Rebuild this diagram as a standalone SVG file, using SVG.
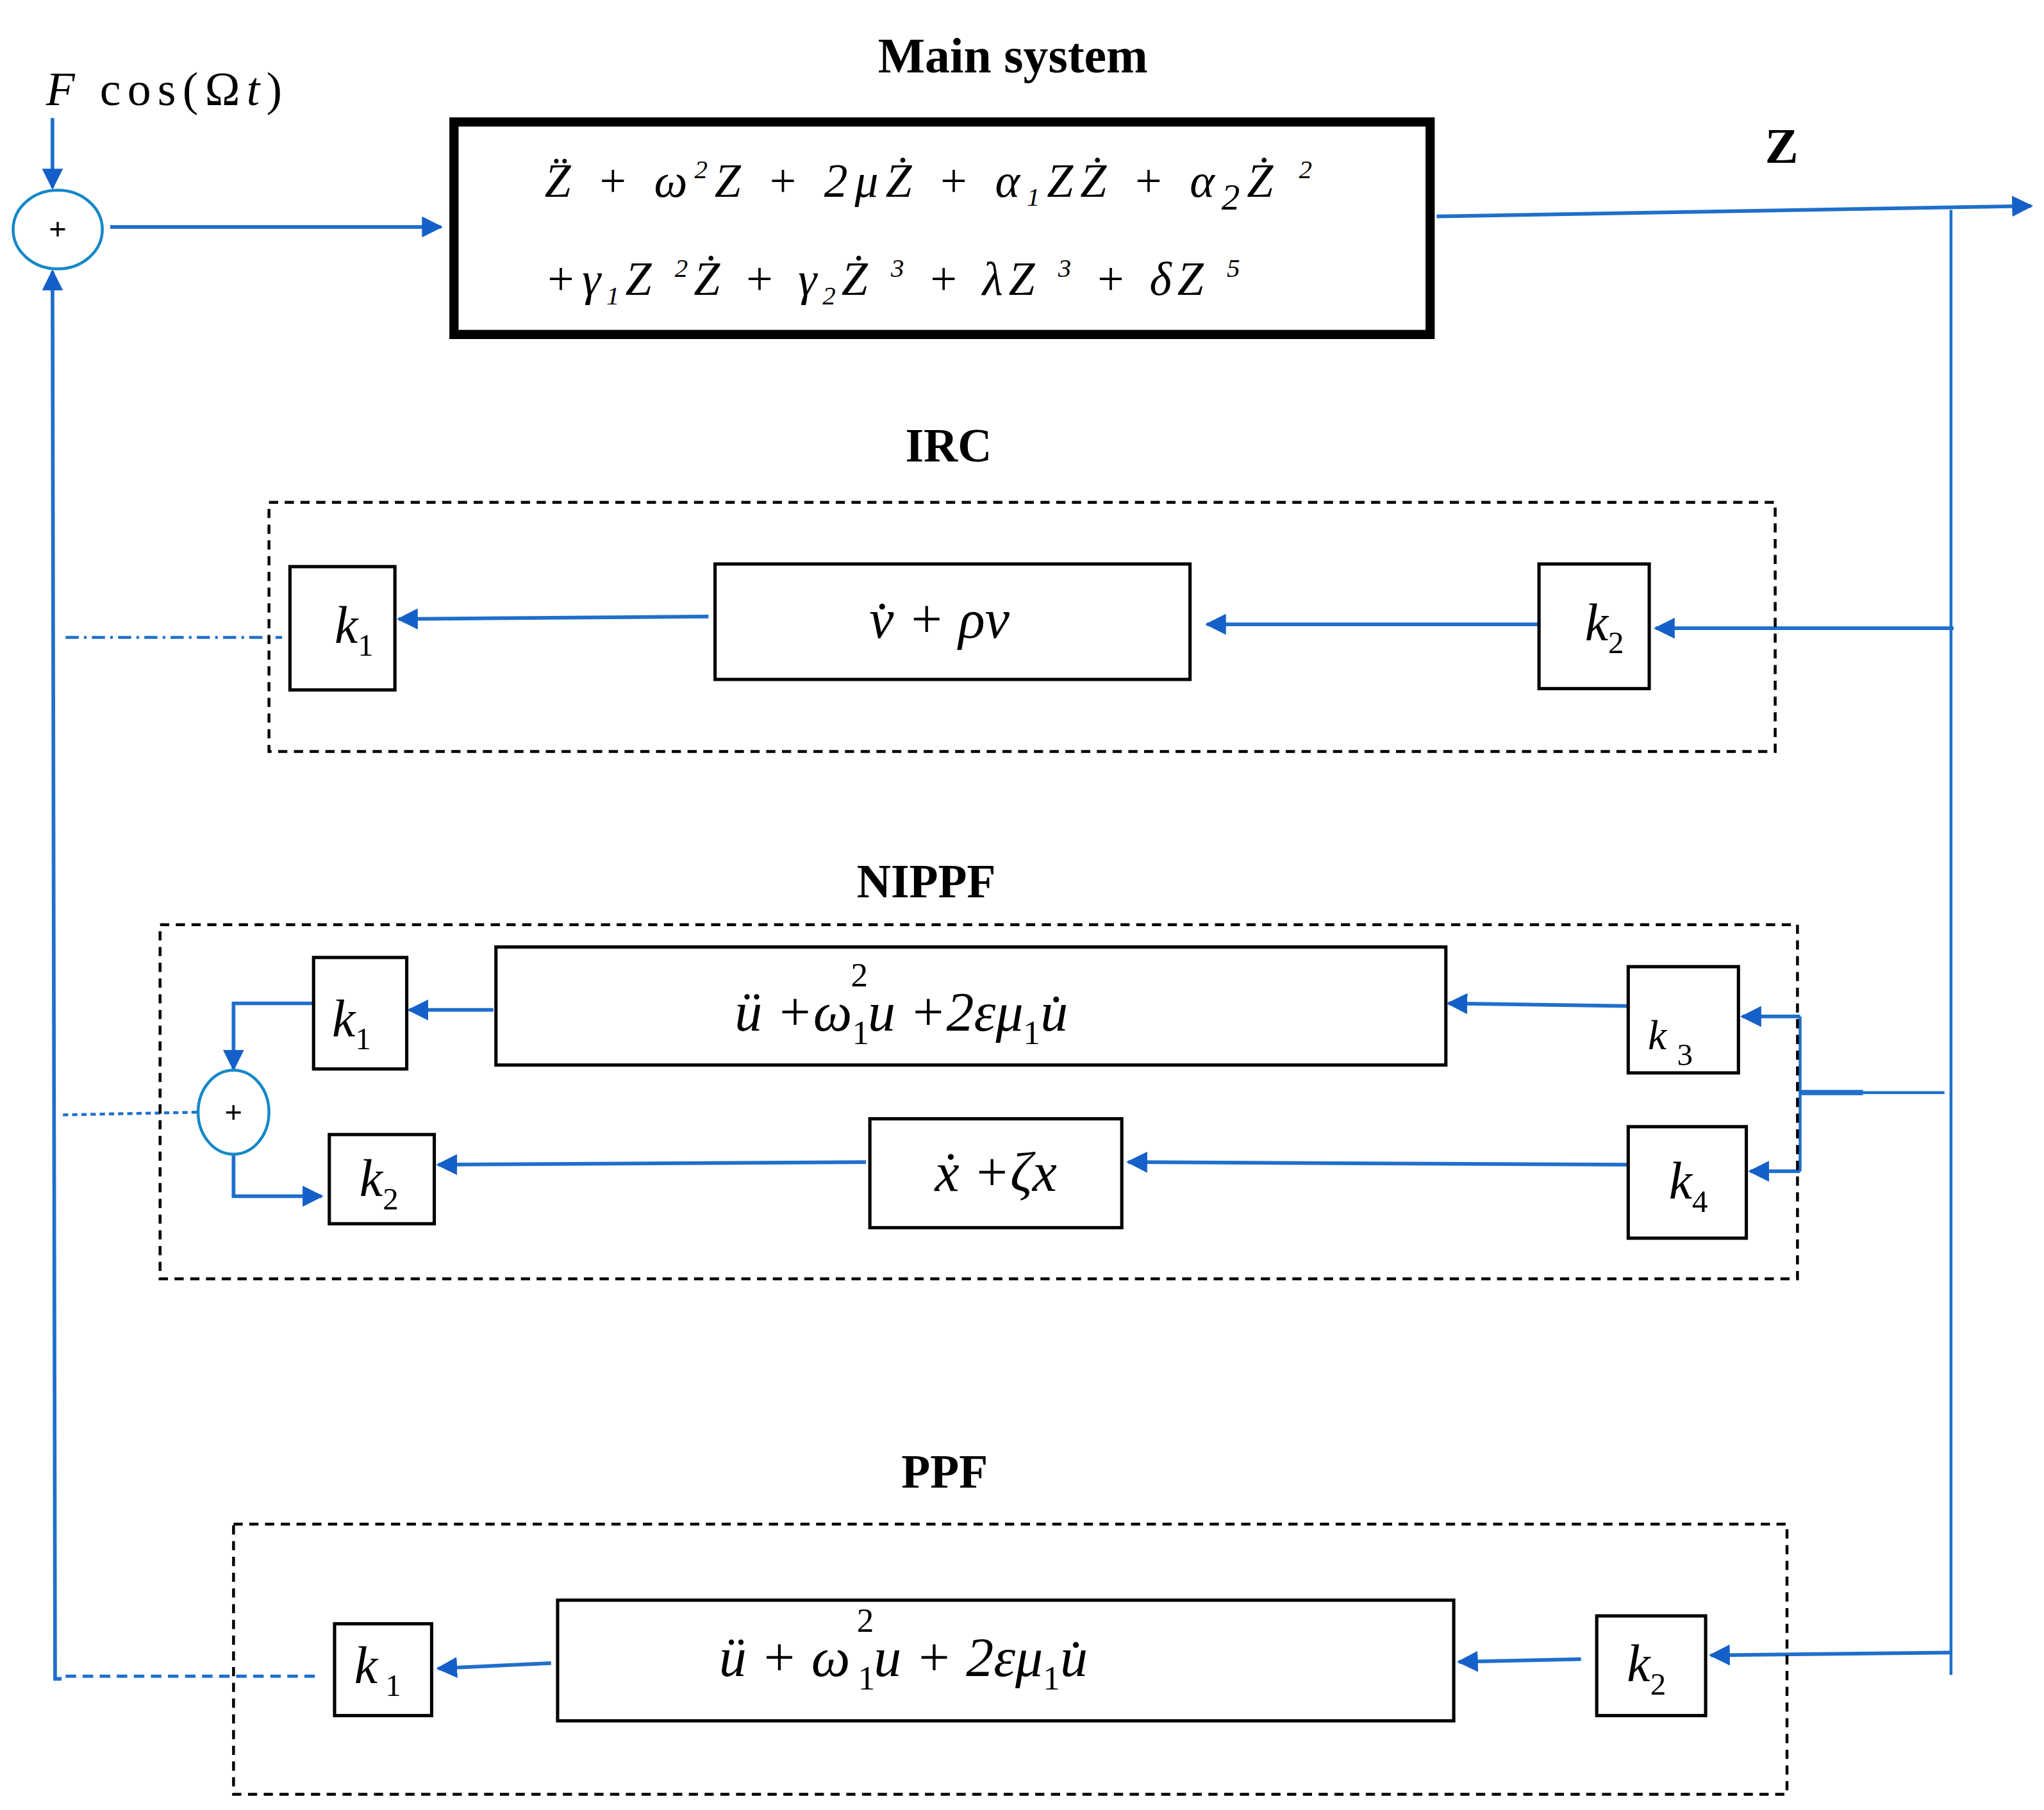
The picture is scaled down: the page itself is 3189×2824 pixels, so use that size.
<svg xmlns="http://www.w3.org/2000/svg" width="3189" height="2824" viewBox="0 0 3189 2824">
<style>
.t{font-family:"Liberation Serif",serif;fill:#000}
.b{font-weight:bold}
.i{font-style:italic}
.box{fill:#fff;stroke:#000;stroke-width:2.5}
.dash{fill:none;stroke:#000;stroke-width:2.2;stroke-dasharray:7,5}
.c{stroke:#1f6fcc;stroke-width:2.2;fill:none}
.ca{stroke:#1f6fcc;stroke-width:2.8;fill:none;marker-end:url(#ah)}
.sum{fill:#fff;stroke:#1588c8;stroke-width:2.2}
</style>
<defs>
<marker id="ah" viewBox="0 0 10 10" refX="9" refY="5" markerWidth="16" markerHeight="16" markerUnits="userSpaceOnUse" orient="auto">
<path d="M0,0 L10,5 L0,10 z" fill="#1560c8"/>
</marker>
</defs>
<rect width="3189" height="2824" fill="#fff"/>
<g transform="scale(2.047,2.0464)">
<g id="labels">
<text class="t b" x="772" y="55" font-size="38" text-anchor="middle">Main system</text>
<text class="t" x="35" y="80" font-size="36" textLength="180" lengthAdjust="spacing"><tspan class="i">F</tspan> cos(Ω<tspan class="i">t</tspan>)</text>
<text class="t b" x="1358" y="124" font-size="38" text-anchor="middle">Z</text>
<text class="t b" x="723" y="352" font-size="36" text-anchor="middle">IRC</text>
<text class="t b" x="706" y="684" font-size="36" text-anchor="middle">NIPPF</text>
<text class="t b" x="720" y="1134" font-size="36" text-anchor="middle">PPF</text>
</g>
<g id="connectors">
<line class="ca" x1="40" y1="90" x2="40" y2="143"/>
<polyline class="ca" points="47,1280 42,1280 40,207"/>
<line class="ca" x1="84" y1="173" x2="336" y2="173"/>
<line class="ca" x1="1095" y1="165" x2="1548" y2="157"/>
<line class="c" x1="1487" y1="160" x2="1487" y2="1277"/>
<line class="ca" x1="1489" y1="479" x2="1262" y2="479"/>
<line class="ca" x1="1175" y1="476" x2="920" y2="476"/>
<line class="ca" x1="540" y1="470" x2="304" y2="472"/>
<line x1="50" y1="486" x2="215" y2="486" stroke="#1f6fcc" stroke-width="2.2" stroke-dasharray="10,4,2,4"/>
<line class="c" x1="1372" y1="775" x2="1372" y2="893"/>
<line x1="1372" y1="833" x2="1420" y2="833" stroke="#1f6fcc" stroke-width="4"/>
<line class="c" x1="1420" y1="833" x2="1482" y2="833"/>
<line class="ca" x1="1372" y1="775" x2="1328" y2="775"/>
<line class="ca" x1="1372" y1="893" x2="1334" y2="893"/>
<line class="ca" x1="1240" y1="767" x2="1104" y2="765"/>
<line class="ca" x1="1240" y1="888" x2="860" y2="886"/>
<line class="ca" x1="660" y1="886" x2="334" y2="888"/>
<line class="ca" x1="376" y1="770" x2="312" y2="770"/>
<polyline class="ca" points="239,765 178,765 178,815"/>
<polyline class="ca" points="178,880 178,912 245,912"/>
<line x1="48" y1="850" x2="150" y2="848" stroke="#1f6fcc" stroke-width="2.2" stroke-dasharray="4,3"/>
<line class="ca" x1="1487" y1="1260" x2="1304" y2="1262"/>
<line class="ca" x1="1205" y1="1265" x2="1112" y2="1267"/>
<line class="ca" x1="420" y1="1268" x2="334" y2="1272"/>
<line x1="50" y1="1278" x2="240" y2="1278" stroke="#1f6fcc" stroke-width="2.5" stroke-dasharray="8,5"/>
</g>
<g id="sum1"><ellipse class="sum" cx="44" cy="175" rx="34" ry="30"/><text class="t b" x="44" y="183" font-size="24" text-anchor="middle">+</text></g>
<g id="main">
<rect x="346" y="93" width="744" height="162" fill="#fff" stroke="#000" stroke-width="7"/>
<text class="t i" x="415" y="150" font-size="36" textLength="585" lengthAdjust="spacing">Z̈ + ω<tspan dy="-14" font-size="20">2</tspan><tspan dy="14">Z + 2μŻ + α</tspan><tspan dy="7" font-size="20">1</tspan><tspan dy="-7">ZŻ + α</tspan><tspan dy="10" font-size="28">2</tspan><tspan dy="-10">Ż </tspan><tspan dy="-14" font-size="20">2</tspan></text>
<text class="t i" x="415" y="225" font-size="36" textLength="530" lengthAdjust="spacing">+γ<tspan dy="7" font-size="20">1</tspan><tspan dy="-7">Z </tspan><tspan dy="-14" font-size="20">2</tspan><tspan dy="14">Ż + γ</tspan><tspan dy="7" font-size="20">2</tspan><tspan dy="-7">Ż </tspan><tspan dy="-14" font-size="20">3</tspan><tspan dy="14"> + λZ </tspan><tspan dy="-14" font-size="20">3</tspan><tspan dy="14"> + δZ </tspan><tspan dy="-14" font-size="20">5</tspan></text>
</g>
<g id="irc">
<rect class="dash" x="205" y="383" width="1148" height="190"/>
<g id="irc-k1"><rect class="box" x="221" y="432" width="80" height="94"/><text class="t i" x="255" y="490" font-size="40">k<tspan dy="10" font-size="24" font-style="normal">1</tspan></text></g>
<g id="irc-f"><rect class="box" x="545" y="430" width="362" height="88"/><text class="t i" x="716" y="486" font-size="42" text-anchor="middle">v̇ + ρv</text></g>
<g id="irc-k2"><rect class="box" x="1173" y="430" width="84" height="95"/><text class="t i" x="1208" y="488" font-size="40">k<tspan dy="10" font-size="24" font-style="normal">2</tspan></text></g>
</g>
<g id="nippf">
<rect class="dash" x="122" y="705" width="1248" height="270"/>
<g id="n-k1"><rect class="box" x="239" y="730" width="71" height="85"/><text class="t i" x="253" y="790" font-size="40">k<tspan dy="10" font-size="24" font-style="normal">1</tspan></text></g>
<g id="n-f1"><rect class="box" x="378" y="722" width="724" height="90"/><text class="t i" x="560" y="786" font-size="42">ü +ω<tspan dy="10" font-size="26" font-style="normal">1</tspan><tspan dx="-14" dy="-44" font-size="26" font-style="normal">2</tspan><tspan dy="34">u +2εμ</tspan><tspan dy="10" font-size="26" font-style="normal">1</tspan><tspan dy="-10">u̇</tspan></text></g>
<g id="n-k3"><rect class="box" x="1241" y="737" width="84" height="81"/><text class="t i" x="1256" y="800" font-size="32">k<tspan dx="8" dy="12" font-size="24" font-style="normal">3</tspan></text></g>
<g id="n-sum"><ellipse class="sum" cx="178" cy="848" rx="27" ry="32"/><text class="t b" x="178" y="856" font-size="24" text-anchor="middle">+</text></g>
<g id="n-k2"><rect class="box" x="251" y="865" width="80" height="68"/><text class="t i" x="274" y="912" font-size="40">k<tspan dy="10" font-size="24" font-style="normal">2</tspan></text></g>
<g id="n-f2"><rect class="box" x="663" y="853" width="192" height="83"/><text class="t i" x="759" y="908" font-size="42" text-anchor="middle">ẋ +ζx</text></g>
<g id="n-k4"><rect class="box" x="1241" y="859" width="90" height="85"/><text class="t i" x="1272" y="914" font-size="40">k<tspan dy="10" font-size="24" font-style="normal">4</tspan></text></g>
</g>
<g id="ppf">
<rect class="dash" x="178" y="1162" width="1184" height="206"/>
<g id="p-k1"><rect class="box" x="255" y="1238" width="74" height="70"/><text class="t i" x="270" y="1283" font-size="40">k<tspan dx="6" dy="10" font-size="24" font-style="normal">1</tspan></text></g>
<g id="p-f"><rect class="box" x="425" y="1220" width="683" height="92"/><text class="t i" x="548" y="1278" font-size="42">ü + ω<tspan dx="6" dy="10" font-size="26" font-style="normal">1</tspan><tspan dx="-14" dy="-44" font-size="26" font-style="normal">2</tspan><tspan dy="34">u + 2εμ</tspan><tspan dy="10" font-size="26" font-style="normal">1</tspan><tspan dy="-10">u̇</tspan></text></g>
<g id="p-k2"><rect class="box" x="1217" y="1232" width="83" height="76"/><text class="t i" x="1240" y="1282" font-size="40">k<tspan dy="10" font-size="24" font-style="normal">2</tspan></text></g>
</g>
</g>
</svg>
